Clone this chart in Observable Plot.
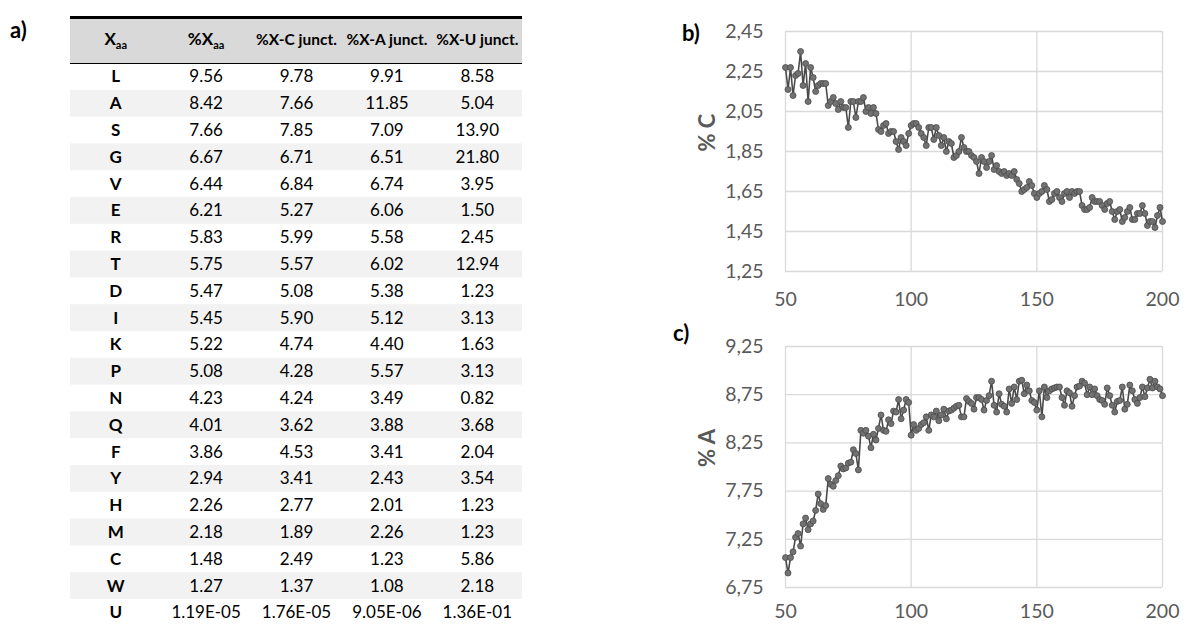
<!DOCTYPE html>
<html><head><meta charset="utf-8">
<script src="https://cdn.jsdelivr.net/npm/d3@7"></script>
<script src="https://cdn.jsdelivr.net/npm/@observablehq/plot@0.6"></script>
<style>
body{margin:0;background:#fff;}
#root{position:relative;width:1189px;height:624px;overflow:hidden;background:#fff;font-family:Lato,"Open Sans",sans-serif;}
.panel{position:absolute;font-weight:bold;font-size:22px;color:#000;line-height:22px;font-family:Lato,"Open Sans",sans-serif;}
.box{position:absolute;}
</style></head>
<body><div id="root"></div>
<script>
// ---------- Table data (panel a) ----------
const headers = ["X_aa", "%X_aa", "%X-C junct.", "%X-A junct.", "%X-U junct."];
const aminoAcids = ["L","A","S","G","V","E","R","T","D","I","K","P","N","Q","F","Y","H","M","C","W","U"];
const pctX = [9.56,8.42,7.66,6.67,6.44,6.21,5.83,5.75,5.47,5.45,5.22,5.08,4.23,4.01,3.86,2.94,2.26,2.18,1.48,1.27,1.19e-5];
const pctXC = [9.78,7.66,7.85,6.71,6.84,5.27,5.99,5.57,5.08,5.90,4.74,4.28,4.24,3.62,4.53,3.41,2.77,1.89,2.49,1.37,1.76e-5];
const pctXA = [9.91,11.85,7.09,6.51,6.74,6.06,5.58,6.02,5.38,5.12,4.40,5.57,3.49,3.88,3.41,2.43,2.01,2.26,1.23,1.08,9.05e-6];
const pctXU = [8.58,5.04,13.90,21.80,3.95,1.50,2.45,12.94,1.23,3.13,1.63,3.13,0.82,3.68,2.04,3.54,1.23,1.23,5.86,2.18,1.36e-1];

// ---------- Line chart data (panels b, c) ----------
const lengthStart = 50, lengthEnd = 200;
const xTicks = [50, 100, 150, 200];
const yTicksC = [1.25, 1.45, 1.65, 1.85, 2.05, 2.25, 2.45];
const yTicksA = [6.75, 7.25, 7.75, 8.25, 8.75, 9.25];
const pctC = [2.27,2.16,2.27,2.13,2.23,2.24,2.35,2.18,2.29,2.10,2.27,2.22,2.15,2.18,2.19,2.19,2.19,2.08,2.10,2.12,
  2.09,2.06,2.10,2.07,2.07,1.97,2.10,2.10,2.02,2.10,2.10,2.12,2.05,2.07,2.04,2.07,2.04,1.96,1.95,1.98,
  1.99,1.94,1.95,1.95,1.90,1.86,1.92,1.90,1.88,1.94,1.98,1.99,1.99,1.97,1.94,1.92,1.88,1.97,1.97,1.91,
  1.97,1.93,1.88,1.92,1.85,1.90,1.89,1.82,1.83,1.85,1.92,1.87,1.85,1.85,1.83,1.82,1.80,1.74,1.82,1.80,
  1.77,1.80,1.83,1.76,1.78,1.75,1.74,1.75,1.73,1.74,1.73,1.75,1.71,1.69,1.65,1.66,1.67,1.70,1.68,1.64,
  1.62,1.64,1.65,1.68,1.66,1.60,1.61,1.64,1.65,1.62,1.60,1.64,1.65,1.62,1.65,1.64,1.65,1.65,1.58,1.56,
  1.56,1.57,1.62,1.60,1.60,1.60,1.58,1.56,1.59,1.60,1.55,1.51,1.55,1.56,1.50,1.52,1.55,1.57,1.51,1.51,
  1.54,1.54,1.58,1.54,1.48,1.50,1.50,1.47,1.53,1.57,1.50];
const pctA = [7.06,6.90,7.06,7.12,7.27,7.31,7.18,7.41,7.47,7.35,7.41,7.44,7.55,7.72,7.62,7.56,7.60,7.88,7.82,7.80,
  7.86,7.91,8.01,7.98,7.99,8.04,8.05,8.18,8.14,7.97,8.38,8.35,8.38,8.32,8.20,8.34,8.28,8.40,8.54,8.38,
  8.37,8.49,8.45,8.58,8.57,8.70,8.50,8.59,8.70,8.67,8.33,8.44,8.38,8.40,8.44,8.46,8.52,8.38,8.54,8.52,
  8.58,8.48,8.54,8.60,8.50,8.58,8.59,8.61,8.63,8.64,8.52,8.52,8.71,8.68,8.66,8.60,8.72,8.72,8.70,8.59,
  8.69,8.74,8.89,8.64,8.57,8.76,8.65,8.63,8.57,8.81,8.66,8.83,8.70,8.89,8.90,8.76,8.85,8.79,8.69,8.67,
  8.59,8.79,8.52,8.83,8.72,8.79,8.81,8.82,8.83,8.83,8.72,8.64,8.79,8.77,8.63,8.74,8.83,8.84,8.89,8.87,
  8.75,8.83,8.75,8.81,8.74,8.70,8.69,8.65,8.82,8.74,8.64,8.57,8.68,8.69,8.83,8.60,8.65,8.85,8.79,8.70,
  8.66,8.72,8.83,8.73,8.82,8.91,8.82,8.89,8.83,8.81,8.74];

const root = document.getElementById("root");
function place(node, left, top) {
  const d = document.createElement("div");
  d.className = "box"; d.style.left = left + "px"; d.style.top = top + "px";
  d.appendChild(node); root.appendChild(d);
}
function label(text, left, top) {
  const d = document.createElement("div");
  d.className = "panel"; d.textContent = text;
  d.style.left = left + "px"; d.style.top = top + "px";
  root.appendChild(d);
}

// ---------- Panel a: table ----------
const fmt = (v, i) => i === aminoAcids.length - 1
  ? v.toExponential(2).toUpperCase().replace(/E([+-])(\d)$/, "E$10$2")
  : v.toFixed(2);
const rowH = 26.8, headH = 46, tableTop = 17;
const headUnits = headH / rowH;
const nRows = aminoAcids.length;
const rows = aminoAcids.map((aa, i) => ({i, aa}));
const cols = [pctX, pctXC, pctXA, pctXU];
const cells = [];
cols.forEach((arr, c) => arr.forEach((v, i) => cells.push({col: c + 1, i, text: fmt(v, i)})));
const headerCells = headers.map((h, c) => ({col: c, text: h}));

const table = Plot.plot({
  width: 530, height: 624, margin: 0,
  style: {fontFamily: "Lato, 'Open Sans', sans-serif", background: "transparent"},
  x: {domain: [0, headers.length], range: [70, 522], axis: null},
  y: {domain: [-headUnits, nRows], range: [tableTop, tableTop + (nRows + headUnits) * rowH], axis: null},
  marks: [
    Plot.rect([{}], {x1: () => 0, x2: () => headers.length, y1: () => -headUnits, y2: () => 0, fill: "#d9d9d9"}),
    Plot.rect(rows.filter(d => d.i % 2 === 1), {x1: () => 0, x2: () => headers.length, y1: "i", y2: d => d.i + 1, fill: "#f2f2f2"}),
    Plot.ruleY([-headUnits], {x1: () => 0, x2: () => headers.length, stroke: "#000", strokeWidth: 3}),
    Plot.ruleY([0], {x1: () => 0, x2: () => headers.length, stroke: "#000", strokeWidth: 1.2}),
    Plot.text(headerCells, {x: d => d.col + 0.5, y: () => -headUnits / 2, text: "text", fontWeight: "bold", fontSize: 15.5, fill: "#000"}),
    Plot.text(rows, {x: () => 0.5, y: d => d.i + 0.5, text: "aa", fontWeight: "bold", fontSize: 17, fill: "#000"}),
    Plot.text(cells, {x: d => d.col + 0.5, y: d => d.i + 0.5, text: "text", fontSize: 17, fill: "#000"})
  ]
});
d3.select(table).selectAll("text").each(function () {
  const t = this.textContent;
  if (t === "X_aa" || t === "%X_aa") {
    const base = t.replace("_aa", "");
    const sel = d3.select(this);
    sel.text(null);
    sel.append("tspan").attr("font-size", "17").text(base);
    sel.append("tspan").attr("dy", "0.35em").attr("font-size", "11").text("aa");
  }
});
place(table, 0, 0);
label("a)", 10, 19);

// ---------- Panels b, c: line charts ----------
function lineChart(values, yDomain, yTicks, yLabel, dims) {
  const data = values.map((v, k) => ({n: lengthStart + k, v}));
  return Plot.plot({
    width: dims.width, height: dims.height,
    marginLeft: 125, marginRight: 27, marginTop: dims.top, marginBottom: dims.bottom,
    style: {fontFamily: "Lato, 'Open Sans', sans-serif", fontSize: "19.5px", color: "#595959", background: "transparent"},
    x: {domain: [lengthStart, lengthEnd], ticks: xTicks, tickSize: 0, tickPadding: dims.xpad, label: null, tickFormat: d => String(d)},
    y: {domain: yDomain, ticks: yTicks, tickSize: 0, tickPadding: 22, label: null,
        tickFormat: d => d.toFixed(2).replace(".", ",")},
    marks: [
      Plot.ruleX(xTicks, {stroke: "#d9d9d9", strokeWidth: 1.3}),
      Plot.ruleY(yTicks, {stroke: "#d9d9d9", strokeWidth: 1.3}),
      Plot.line(data, {x: "n", y: "v", stroke: "#4a4a4a", strokeWidth: 1.6}),
      Plot.dot(data, {x: "n", y: "v", r: 3, fill: "#727272", stroke: "#4a4a4a", strokeWidth: 0.8}),
      Plot.text([yLabel], {text: d => d, frameAnchor: "left", rotate: -90, dx: -78, fontWeight: "bold", fontSize: 22, fill: "#595959"})
    ]
  });
}
const chartB = lineChart(pctC, [1.25, 2.45], yTicksC, "% C", {width: 529, height: 312, top: 31, bottom: 41, xpad: 21});
place(chartB, 660, 0);
label("b)", 682, 22);
const chartC = lineChart(pctA, [6.75, 9.25], yTicksA, "% A", {width: 529, height: 314, top: 36, bottom: 37, xpad: 17});
place(chartC, 660, 310);
label("c)", 673, 322);
</script></body></html>
